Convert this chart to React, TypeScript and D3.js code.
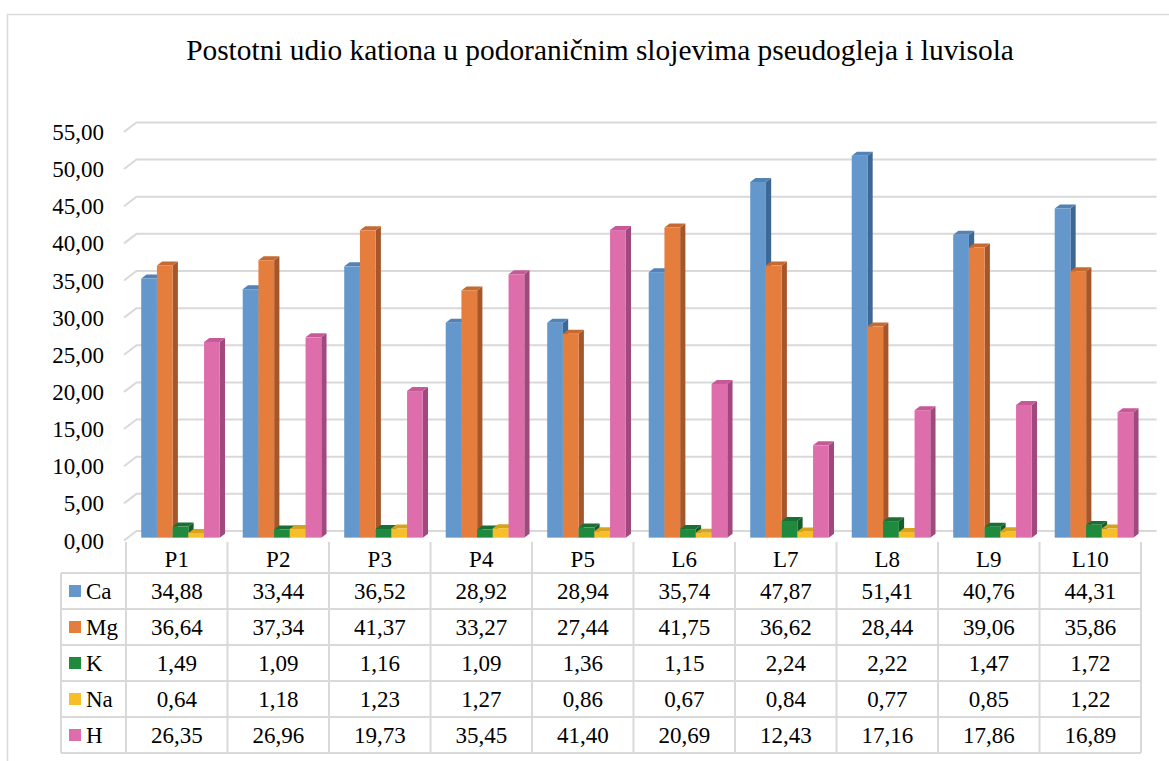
import React, { useEffect, useRef } from 'react';
import * as d3 from 'd3';

const categories = ['P1', 'P2', 'P3', 'P4', 'P5', 'L6', 'L7', 'L8', 'L9', 'L10'];
const seriesNames = ['Ca', 'Mg', 'K', 'Na', 'H'];
const caValues = [34.88, 33.44, 36.52, 28.92, 28.94, 35.74, 47.87, 51.41, 40.76, 44.31];
const mgValues = [36.64, 37.34, 41.37, 33.27, 27.44, 41.75, 36.62, 28.44, 39.06, 35.86];
const kValues = [1.49, 1.09, 1.16, 1.09, 1.36, 1.15, 2.24, 2.22, 1.47, 1.72];
const naValues = [0.64, 1.18, 1.23, 1.27, 0.86, 0.67, 0.84, 0.77, 0.85, 1.22];
const hValues = [26.35, 26.96, 19.73, 35.45, 41.4, 20.69, 12.43, 17.16, 17.86, 16.89];
const yTicks = [0, 5, 10, 15, 20, 25, 30, 35, 40, 45, 50, 55];

const colors = [
  { front: '#6498cc', side: '#3e6894', top: '#5282b6' },
  { front: '#e57e3d', side: '#a5562a', top: '#c66a31' },
  { front: '#1f8a3e', side: '#175d2b', top: '#1a7033' },
  { front: '#f6bf2a', side: '#b98c1c', top: '#d6a321' },
  { front: '#de6dac', side: '#a0497c', top: '#c65a98' },
];

const FONT = '"Liberation Serif", "Times New Roman", serif';
const GRID = '#d9d9d9';

const fmt = (v: number) => v.toFixed(2).replace('.', ',');

const App: React.FC = () => {
  const svgRef = useRef<SVGSVGElement>(null);

  useEffect(() => {
    if (!svgRef.current) return;
    const data = [caValues, mgValues, kValues, naValues, hValues];

    const width = 1169;
    const height = 761;
    const svg = d3.select(svgRef.current)
      .attr('width', width)
      .attr('height', height)
      .html('');

    // outer chart frame
    svg.append('rect')
      .attr('x', 7.5).attr('y', 14.5)
      .attr('width', 1170).attr('height', 800)
      .attr('fill', '#fff').attr('stroke', GRID).attr('stroke-width', 1.5);

    // title
    svg.append('text')
      .attr('x', 600).attr('y', 60)
      .attr('text-anchor', 'middle')
      .style('font-family', FONT)
      .style('font-size', '29.4px')
      .text('Postotni udio kationa u podoraničnim slojevima pseudogleja i luvisola');

    // 3D geometry: front floor edge and depth offset
    const plotLeft = 126;
    const plotRight = 1141;
    const depthX = 12.5;
    const depthY = -9.5;

    const yScale = d3.scaleLinear().domain([0, 55]).range([540.5, 131.9]);
    const x0 = d3.scaleBand<string>()
      .domain(categories)
      .range([plotLeft, plotRight])
      .paddingInner(0.226)
      .paddingOuter(0.113);
    const x1 = d3.scaleBand<string>()
      .domain(seriesNames)
      .range([0, x0.bandwidth()]);

    // gridlines: left side diagonal + back wall
    const grid = svg.append('g');
    yTicks.forEach(t => {
      const yf = yScale(t);
      grid.append('path')
        .attr('d', `M${plotLeft - 2},${yf} L${plotLeft - 2 + depthX},${yf + depthY} L${plotRight + depthX + 3},${yf + depthY}`)
        .attr('fill', 'none')
        .attr('stroke', GRID)
        .attr('stroke-width', 2);
    });

    // y axis labels
    svg.append('g')
      .selectAll('text')
      .data(yTicks)
      .join('text')
      .attr('x', 104)
      .attr('y', d => yScale(d))
      .attr('dy', '0.35em')
      .attr('text-anchor', 'end')
      .style('font-family', FONT)
      .style('font-size', '23px')
      .text(d => fmt(d));

    // bars (front face at depth d0, back at d1)
    const d0 = 0.3;
    const d1 = 0.72;
    const bars = svg.append('g');
    categories.forEach((cat, ci) => {
      seriesNames.forEach((s, si) => {
        const v = data[si][ci];
        const c = colors[si];
        const xl = (x0(cat) ?? 0) + (x1(s) ?? 0) + depthX * d0;
        const xr = xl + x1.bandwidth();
        const yb = yScale(0) + depthY * d0;
        const yt = yScale(v) + depthY * d0;
        const ddx = depthX * (d1 - d0);
        const ddy = depthY * (d1 - d0);
        // side face
        bars.append('path')
          .attr('d', `M${xr},${yt} L${xr + ddx},${yt + ddy} L${xr + ddx},${yb + ddy} L${xr},${yb} Z`)
          .attr('fill', c.side);
        // top face
        bars.append('path')
          .attr('d', `M${xl},${yt} L${xl + ddx},${yt + ddy} L${xr + ddx},${yt + ddy} L${xr},${yt} Z`)
          .attr('fill', c.top);
        // front face
        bars.append('rect')
          .attr('x', xl).attr('y', yt)
          .attr('width', x1.bandwidth())
          .attr('height', yb - yt)
          .attr('fill', c.front);
      });
    });

    // data table
    const tableLeft = 61;
    const headerTop = 542;
    const rowTop = 573;
    const rowH = 36;
    const tableBottom = rowTop + rowH * seriesNames.length;
    const colStep = x0.step();
    const colX = (i: number) => plotLeft + i * colStep;
    const table = svg.append('g');

    // horizontal lines
    d3.range(seriesNames.length + 1).forEach(i => {
      table.append('line')
        .attr('x1', tableLeft).attr('x2', plotRight)
        .attr('y1', rowTop + i * rowH).attr('y2', rowTop + i * rowH)
        .attr('stroke', GRID).attr('stroke-width', 2);
    });
    // vertical lines
    table.append('line')
      .attr('x1', tableLeft).attr('x2', tableLeft)
      .attr('y1', rowTop).attr('y2', tableBottom)
      .attr('stroke', GRID).attr('stroke-width', 2);
    d3.range(categories.length + 1).forEach(i => {
      table.append('line')
        .attr('x1', colX(i)).attr('x2', colX(i))
        .attr('y1', headerTop).attr('y2', tableBottom)
        .attr('stroke', GRID).attr('stroke-width', 2);
    });

    // header labels
    table.selectAll('text.cat')
      .data(categories)
      .join('text')
      .attr('class', 'cat')
      .attr('x', (_, i) => colX(i) + colStep / 2)
      .attr('y', (headerTop + rowTop) / 2 + 1)
      .attr('dy', '0.35em')
      .attr('text-anchor', 'middle')
      .style('font-family', FONT)
      .style('font-size', '23px')
      .text(d => d);

    // rows
    seriesNames.forEach((s, si) => {
      const cy = rowTop + si * rowH + rowH / 2;
      table.append('rect')
        .attr('x', 69).attr('y', cy - 6)
        .attr('width', 12).attr('height', 12)
        .attr('fill', colors[si].front);
      table.append('text')
        .attr('x', 86).attr('y', cy)
        .attr('dy', '0.35em')
        .style('font-family', FONT)
        .style('font-size', '23px')
        .text(s);
      data[si].forEach((v, ci) => {
        table.append('text')
          .attr('x', colX(ci) + colStep / 2)
          .attr('y', cy)
          .attr('dy', '0.35em')
          .attr('text-anchor', 'middle')
          .style('font-family', FONT)
          .style('font-size', '23px')
          .text(fmt(v));
      });
    });
  }, []);

  return (
    <svg ref={svgRef} style={{ position: 'fixed', left: 0, top: 0, display: 'block' }}></svg>
  );
};

export default App;
